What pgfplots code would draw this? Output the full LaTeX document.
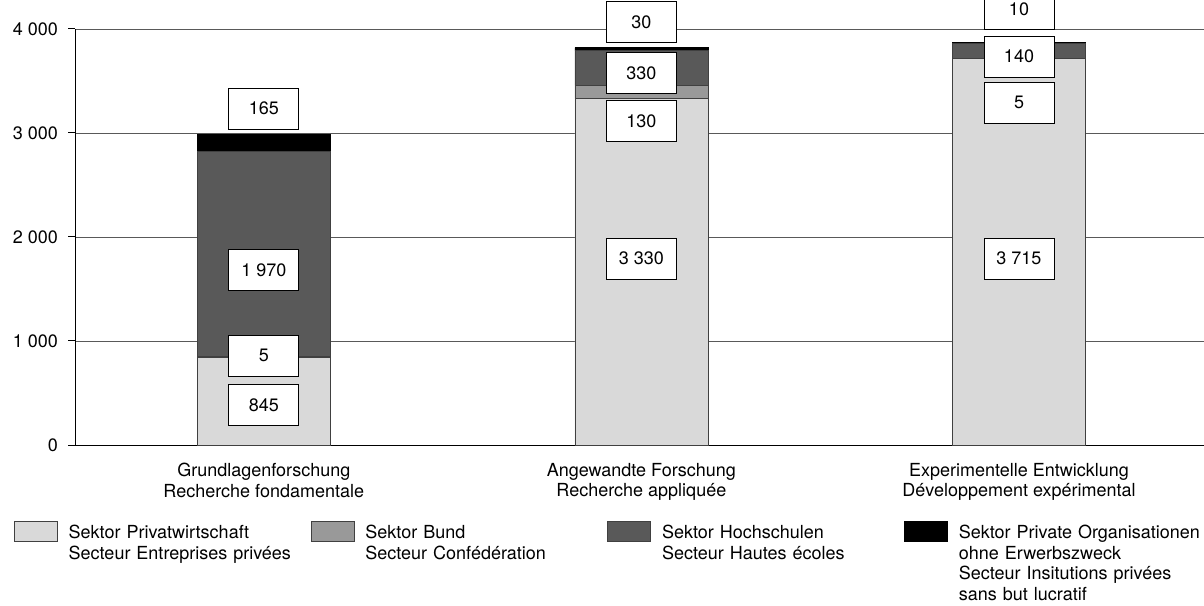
\documentclass[border=0pt]{standalone}
\usepackage{pgfplots}
\pgfplotsset{compat=1.18}
\usepackage{fontspec}
\setmainfont{TeX Gyre Heros}
\definecolor{privat}{gray}{0.85}
\definecolor{bund}{gray}{0.60}
\definecolor{hochschulen}{gray}{0.35}
\definecolor{orga}{gray}{0.0}
\newcommand\lab{\fontsize{18bp}{20.5bp}\selectfont}

\begin{document}
\begin{tikzpicture}[font=\lab,
  box/.style={draw=black, fill=white, line width=0.7bp, minimum width=70bp,
    minimum height=41bp, inner sep=0pt, font=\lab}]
\begin{axis}[
  at={(75bp,161bp)}, anchor=south west,
  scale only axis, width=1129bp, height=416bp,
  xmin=-0.5, xmax=2.49, ymin=0, ymax=4000,
  ybar stacked, bar width=133bp,
  axis x line*=bottom, axis y line*=left,
  axis line style={line width=1bp, -},
  ytick={0,1000,2000,3000,4000},
  tick align=outside, major tick length=7bp,
  ytick style={line width=1bp, black},
  ymajorgrids, grid style={black!65, line width=0.8bp},
  xtick={0,1,2}, xtick style={draw=none},
  xticklabels={{Grundlagenforschung\\Recherche fondamentale},
               {Angewandte Forschung\\Recherche appliquée},
               {Experimentelle Entwicklung\\Développement expérimental}},
  xticklabel style={align=center, font=\lab, inner sep=0pt, yshift=-11bp},
  yticklabel style={font=\lab, inner sep=0pt, xshift=-10bp,
    /pgf/number format/.cd, 1000 sep={\ }, assume math mode=true},
  scaled y ticks=false,
  clip=false,
  legend columns=4,
  legend cell align=left,
  legend image code/.code={\draw[#1] (0bp,4bp) rectangle (43bp,-16bp);},
  legend style={at={(-0.054,-0.183)}, anchor=north west, draw=none,
    inner sep=0pt, outer sep=0pt, column sep=0pt,
    nodes={anchor=north west, inner sep=0pt, text width=242bp, align=left, font=\lab},
    /tikz/every odd column/.style={column sep=11bp}},
  % value boxes, drawn after the stacked bars
  after end axis/.code={
    \node[box] at (axis cs:0,3236) {165};
    \node[box] at (axis cs:0,1683) {1 970};
    \node[box] at (axis cs:0,861) {5};
    \node[box] at (axis cs:0,385) {845};
    \node[box] at (axis cs:1,4067) {30};
    \node[box] at (axis cs:1,3577) {330};
    \node[box] at (axis cs:1,3115) {130};
    \node[box] at (axis cs:1,1793) {3 330};
    \node[box] at (axis cs:2,4192) {10};
    \node[box] at (axis cs:2,3736) {140};
    \node[box] at (axis cs:2,3293) {5};
    \node[box] at (axis cs:2,1793) {3 715};
  },
]
\addplot[fill=privat, draw=black!75, line width=0.7bp] coordinates {(0,845) (1,3330) (2,3715)};
\addlegendentry{Sektor Privatwirtschaft\\Secteur Entreprises privées}
\addplot[fill=bund, draw=black!75, line width=0.7bp] coordinates {(0,5) (1,130) (2,5)};
\addlegendentry{Sektor Bund\\Secteur Confédération}
\addplot[fill=hochschulen, draw=black!75, line width=0.7bp] coordinates {(0,1970) (1,330) (2,140)};
\addlegendentry{Sektor Hochschulen\\Secteur Hautes écoles}
\addplot[fill=orga, draw=black, line width=0.7bp] coordinates {(0,165) (1,30) (2,10)};
\addlegendentry{\mbox{Sektor Private Organisationen}\\ohne Erwerbszweck\\Secteur Insitutions privées\\sans but lucratif}
\end{axis}
\pgfresetboundingbox
\useasboundingbox (0,0) rectangle (1204bp,606bp);
\end{tikzpicture}
\end{document}
